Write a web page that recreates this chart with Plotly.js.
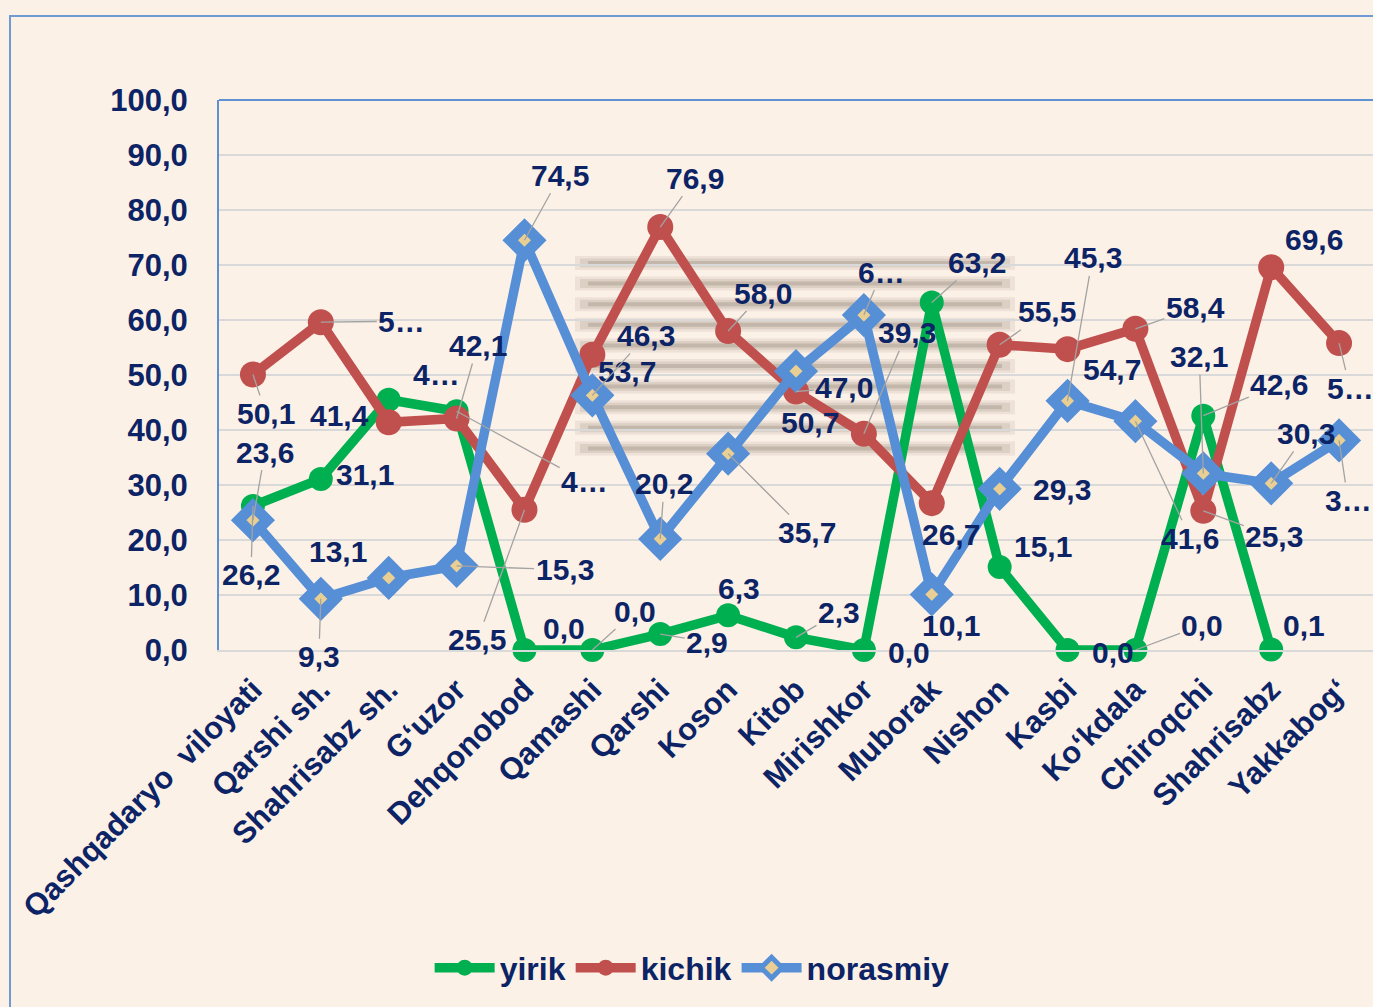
<!DOCTYPE html>
<html><head><meta charset="utf-8">
<script src="https://cdn.plot.ly/plotly-3.0.1.min.js"></script>
<style>
html,body{margin:0;padding:0;background:#fcf1e7;overflow:hidden;}
#chart{width:1373px;height:1007px;}
#frame{position:absolute;left:9px;top:15px;width:1400px;height:1100px;border-left:2px solid #6f9bd4;border-top:2px solid #6f9bd4;pointer-events:none;}
</style></head>
<body>
<div id="chart"></div>
<div id="frame"></div>
<script>
// ---- data ----
const categories = ["Qashqadaryo\u00a0 viloyati","Qarshi sh.","Shahrisabz sh.","G\u2018uzor","Dehqonobod","Qamashi","Qarshi","Koson","Kitob","Mirishkor","Muborak","Nishon","Kasbi","Ko\u2018kdala","Chiroqchi","Shahrisabz","Yakkabog\u2018"];
const yirik    = [26.2, 31.1, 45.5, 43.4, 0.0, 0.0, 2.9, 6.3, 2.3, 0.0, 63.2, 15.1, 0.0, 0.0, 42.6, 0.1, null];
const kichik   = [50.1, 59.6, 41.4, 42.1, 25.5, 53.7, 76.9, 58.0, 47.0, 39.3, 26.7, 55.5, 54.7, 58.4, 25.3, 69.6, 55.8];
const norasmiy = [23.6, 9.3, 13.1, 15.3, 74.5, 46.3, 20.2, 35.7, 50.7, 60.9, 10.1, 29.3, 45.3, 41.6, 32.1, 30.3, 38.1];
const seriesNames = ["yirik","kichik","norasmiy"];
const yTicks = [0,10,20,30,40,50,60,70,80,90,100];

// ---- styling: label offsets (px) [dx, dy, leader, truncated] ----
const labelStyle = {
  yirik: [[-2,69,1,0],[44,-4,0,0],[48,-25,0,1],[128,70,1,1],[40,-22,0,0],[43,-39,1,0],[47,8,1,0],[11,-27,0,0],[43,-25,1,0],[45,2,0,0],[45,-40,1,0],[43,-20,0,0],[45,2,0,0],[67,-25,1,0],[76,-31,1,0],[33,-24,0,0],null],
  kichik: [[13,39,1,0],[81,-1,1,1],[-49,-7,0,0],[21,-73,1,0],[-47,130,1,0],[35,17,0,0],[35,-49,1,0],[35,-38,1,0],[48,-4,1,0],[43,-101,1,0],[19,31,0,0],[47,-33,1,0],[44,20,0,0],[60,-21,1,0],[71,26,1,0],[43,-28,0,0],[11,45,1,1]],
  norasmiy: [[12,-68,1,0],[-2,58,1,0],[-51,-26,0,0],[108,4,1,0],[36,-65,1,0],[54,-60,1,0],[4,-55,1,0],[79,79,1,0],[14,51,0,0],[18,-43,1,1],[19,31,0,0],[62,1,0,0],[25,-143,1,0],[55,117,1,0],[-4,-117,1,0],[35,-50,1,0],[9,60,1,1]]
};

const navy = '#0c2466';
const FONT = 'Liberation Sans, Arial, sans-serif';
const colors = {yirik:'#00b050', kichik:'#c0504d', norasmiy:'#568fd6'};
const values = {yirik, kichik, norasmiy};

function fmt(v){ return v.toFixed(1).replace('.', ','); }

const traces = [
  {name:'yirik', x:categories, y:yirik, type:'scatter', mode:'lines+markers', cliponaxis:false,
   line:{color:colors.yirik, width:9.5}, marker:{symbol:'circle', size:24, color:colors.yirik}},
  {name:'kichik', x:categories, y:kichik, type:'scatter', mode:'lines+markers', cliponaxis:false,
   line:{color:colors.kichik, width:9.5}, marker:{symbol:'circle', size:26, color:colors.kichik}},
  {name:'norasmiy', x:categories, y:norasmiy, type:'scatter', mode:'lines+markers', cliponaxis:false,
   line:{color:colors.norasmiy, width:9.5}, marker:{symbol:'diamond', size:22, color:'#e9cf93', line:{color:colors.norasmiy, width:11}}}
];

const annotations = [];
seriesNames.forEach(s => {
  values[s].forEach((v,i) => {
    if (v === null) return;
    const st = labelStyle[s][i];
    const txt = st[3] ? fmt(v).charAt(0) + '\u2026' : fmt(v);
    const a = {x:categories[i], y:v, xref:'x', yref:'y', text:txt,
      font:{family:FONT, size:30, color:navy, weight:'bold'}};
    if (st[2]) {
      Object.assign(a, {showarrow:true, ax:st[0], ay:st[1], arrowhead:0, arrowwidth:1.3,
        arrowcolor:'#a3a3a3', standoff:0, startstandoff:0});
    } else {
      Object.assign(a, {showarrow:false, xshift:st[0], yshift:-st[1]});
    }
    annotations.push(a);
  });
});

// blurred stripe artefact in the middle of the plot
const L=219, T=100, PW=1154, PH=550;
const shapes = [];
for (let k=0;k<10;k++){
  const py = 263 + 20.6*k;
  const yp = (T+PH-py)/PH;
  shapes.push({type:'line', xref:'paper', yref:'paper', x0:(575-L)/PW, x1:(1015-L)/PW, y0:yp, y1:yp,
    line:{color:'rgba(150,135,118,0.13)', width:14}, layer:'below'});
  shapes.push({type:'line', xref:'paper', yref:'paper', x0:(580-L)/PW, x1:(1010-L)/PW, y0:yp, y1:yp,
    line:{color:'rgba(150,135,118,0.2)', width:9}, layer:'below'});
  shapes.push({type:'line', xref:'paper', yref:'paper', x0:(588-L)/PW, x1:(1002-L)/PW, y0:yp, y1:yp,
    line:{color:'rgba(140,125,108,0.3)', width:4}, layer:'below'});
}
shapes.push({type:'line', xref:'paper', yref:'paper', x0:0, x1:1.01, y0:1, y1:1, line:{color:'#5f91d2', width:2}});

const layout = {
  width:1373, height:1007,
  margin:{l:219, r:0, t:100, b:357},
  paper_bgcolor:'#fcf1e7', plot_bgcolor:'#fcf1e7',
  separators:', ',
  showlegend:true,
  legend:{orientation:'h', x:0.41, xanchor:'center', y:-0.578, yanchor:'middle',
    font:{family:FONT, size:32, color:navy, weight:'bold'}, bgcolor:'rgba(0,0,0,0)', itemwidth:60, tracegroupgap:0},
  xaxis:{type:'category', range:[-0.5,16.5], tickangle:-45, showgrid:false, zeroline:false,
    showline:true, linecolor:'#d9d9d9', linewidth:2, ticks:'', ticklabelstandoff:7,
    tickfont:{family:FONT, size:31, color:navy, weight:'bold'}, automargin:false},
  yaxis:{range:[0,100], tickvals:yTicks, tickformat:'.1f', showgrid:true, gridcolor:'#d9d9d9', gridwidth:2,
    zeroline:false, showline:true, linecolor:'#5f91d2', linewidth:2, ticks:'', ticklabelstandoff:23,
    tickfont:{family:FONT, size:31, color:navy, weight:'bold'}, automargin:false},
  annotations, shapes
};

Plotly.newPlot('chart', traces, layout, {displayModeBar:false, staticPlot:true});
</script>
</body></html>
